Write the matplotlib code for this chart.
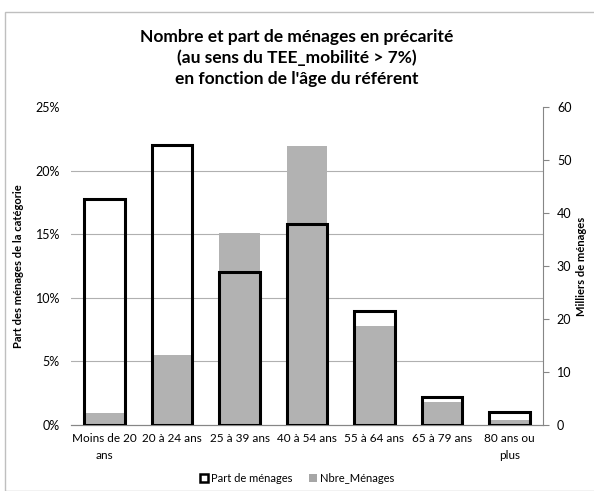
import numpy as np
import matplotlib.pyplot as plt
from matplotlib.patches import Patch, Rectangle

plt.rcParams['font.family'] = ['Lato', 'DejaVu Sans']

# donnees
categories = ['Moins de 20\nans', '20 à 24 ans', '25 à 39 ans', '40 à 54 ans',
              '55 à 64 ans', '65 à 79 ans', '80 ans ou\nplus']
part_menages = [17.8, 22.0, 12.0, 15.8, 9.0, 2.2, 1.0]    # en %
nbre_menages = [2.2, 13.3, 36.3, 52.6, 18.7, 4.3, 0.9]    # milliers

fig = plt.figure(figsize=(5.94, 4.91), dpi=100)
# cadre du graphique
fig.patches.append(Rectangle((5 / 594, 0), 1, 1 - 12 / 491, transform=fig.transFigure,
                             fill=False, edgecolor='#bfbfbf', lw=1))

ax = fig.add_axes([71 / 594, 1 - 425 / 491, 472 / 594, 318 / 491])
ax2 = ax.twinx()
x = np.arange(len(categories))

# barres grises (axe droit) derriere
ax2.bar(x, nbre_menages, width=0.6, color='#b2b2b2', zorder=2)
ax2.set_ylim(0, 60)
ax2.set_yticks(np.arange(0, 61, 10))
ax2.set_yticks(np.arange(0, 61, 12), minor=True)
ax2.grid(True, which='minor', axis='y', color='#b0b0b0', lw=0.8, zorder=0)
ax2.tick_params(axis='y', which='minor', length=0)
ax2.tick_params(axis='y', which='major', length=4, color='#868686', labelsize=9, pad=6)
ax2.set_ylabel('Milliers de ménages', fontsize=8, fontweight='bold', labelpad=3)

# barres creuses (axe gauche) devant
ax.set_zorder(ax2.get_zorder() + 1)
ax.patch.set_visible(False)
ax.bar(x, part_menages, width=0.6, facecolor='none', edgecolor='black', lw=2.2, zorder=3)
ax.set_ylim(0, 25)
ax.set_yticks(np.arange(0, 26, 5))
ax.set_yticklabels([f'{v}%' for v in range(0, 26, 5)])
ax.tick_params(axis='y', length=0, labelsize=9, pad=8)
ax.set_ylabel('Part des ménages de la catégorie', fontsize=8, fontweight='bold', labelpad=8)
ax.set_xlim(-0.5, len(categories) - 0.5)
ax.set_xticks(x)
ax.set_xticklabels(categories, fontsize=8.5)
for lbl in ax.get_xticklabels():
    lbl.set_linespacing(1.6)
ax.tick_params(axis='x', length=0, pad=6)

for a in (ax, ax2):
    a.spines['top'].set_visible(False)
    a.spines['left'].set_visible(False)
    a.spines['bottom'].set_color('#868686')
ax.spines['right'].set_visible(False)
ax2.spines['right'].set_color('#868686')

fig.text(0.5, 1 - 58 / 491,
         'Nombre et part de ménages en précarité\n(au sens du TEE_mobilité > 7%)\nen fonction de l\'âge du référent',
         ha='center', va='center', fontsize=12.5, fontweight='bold', linespacing=1.35)

handles = [Patch(facecolor='white', edgecolor='black', lw=1.8, label='Part de ménages'),
           Patch(facecolor='#a6a6a6', edgecolor='none', label='Nbre_Ménages')]
fig.legend(handles=handles, loc='center', bbox_to_anchor=(0.5, 1 - 478 / 491), ncol=2,
           frameon=False, fontsize=8, handlelength=0.7, handleheight=0.7,
           handletextpad=0.3, columnspacing=1.5)

fig.savefig('out.png', dpi=100)
